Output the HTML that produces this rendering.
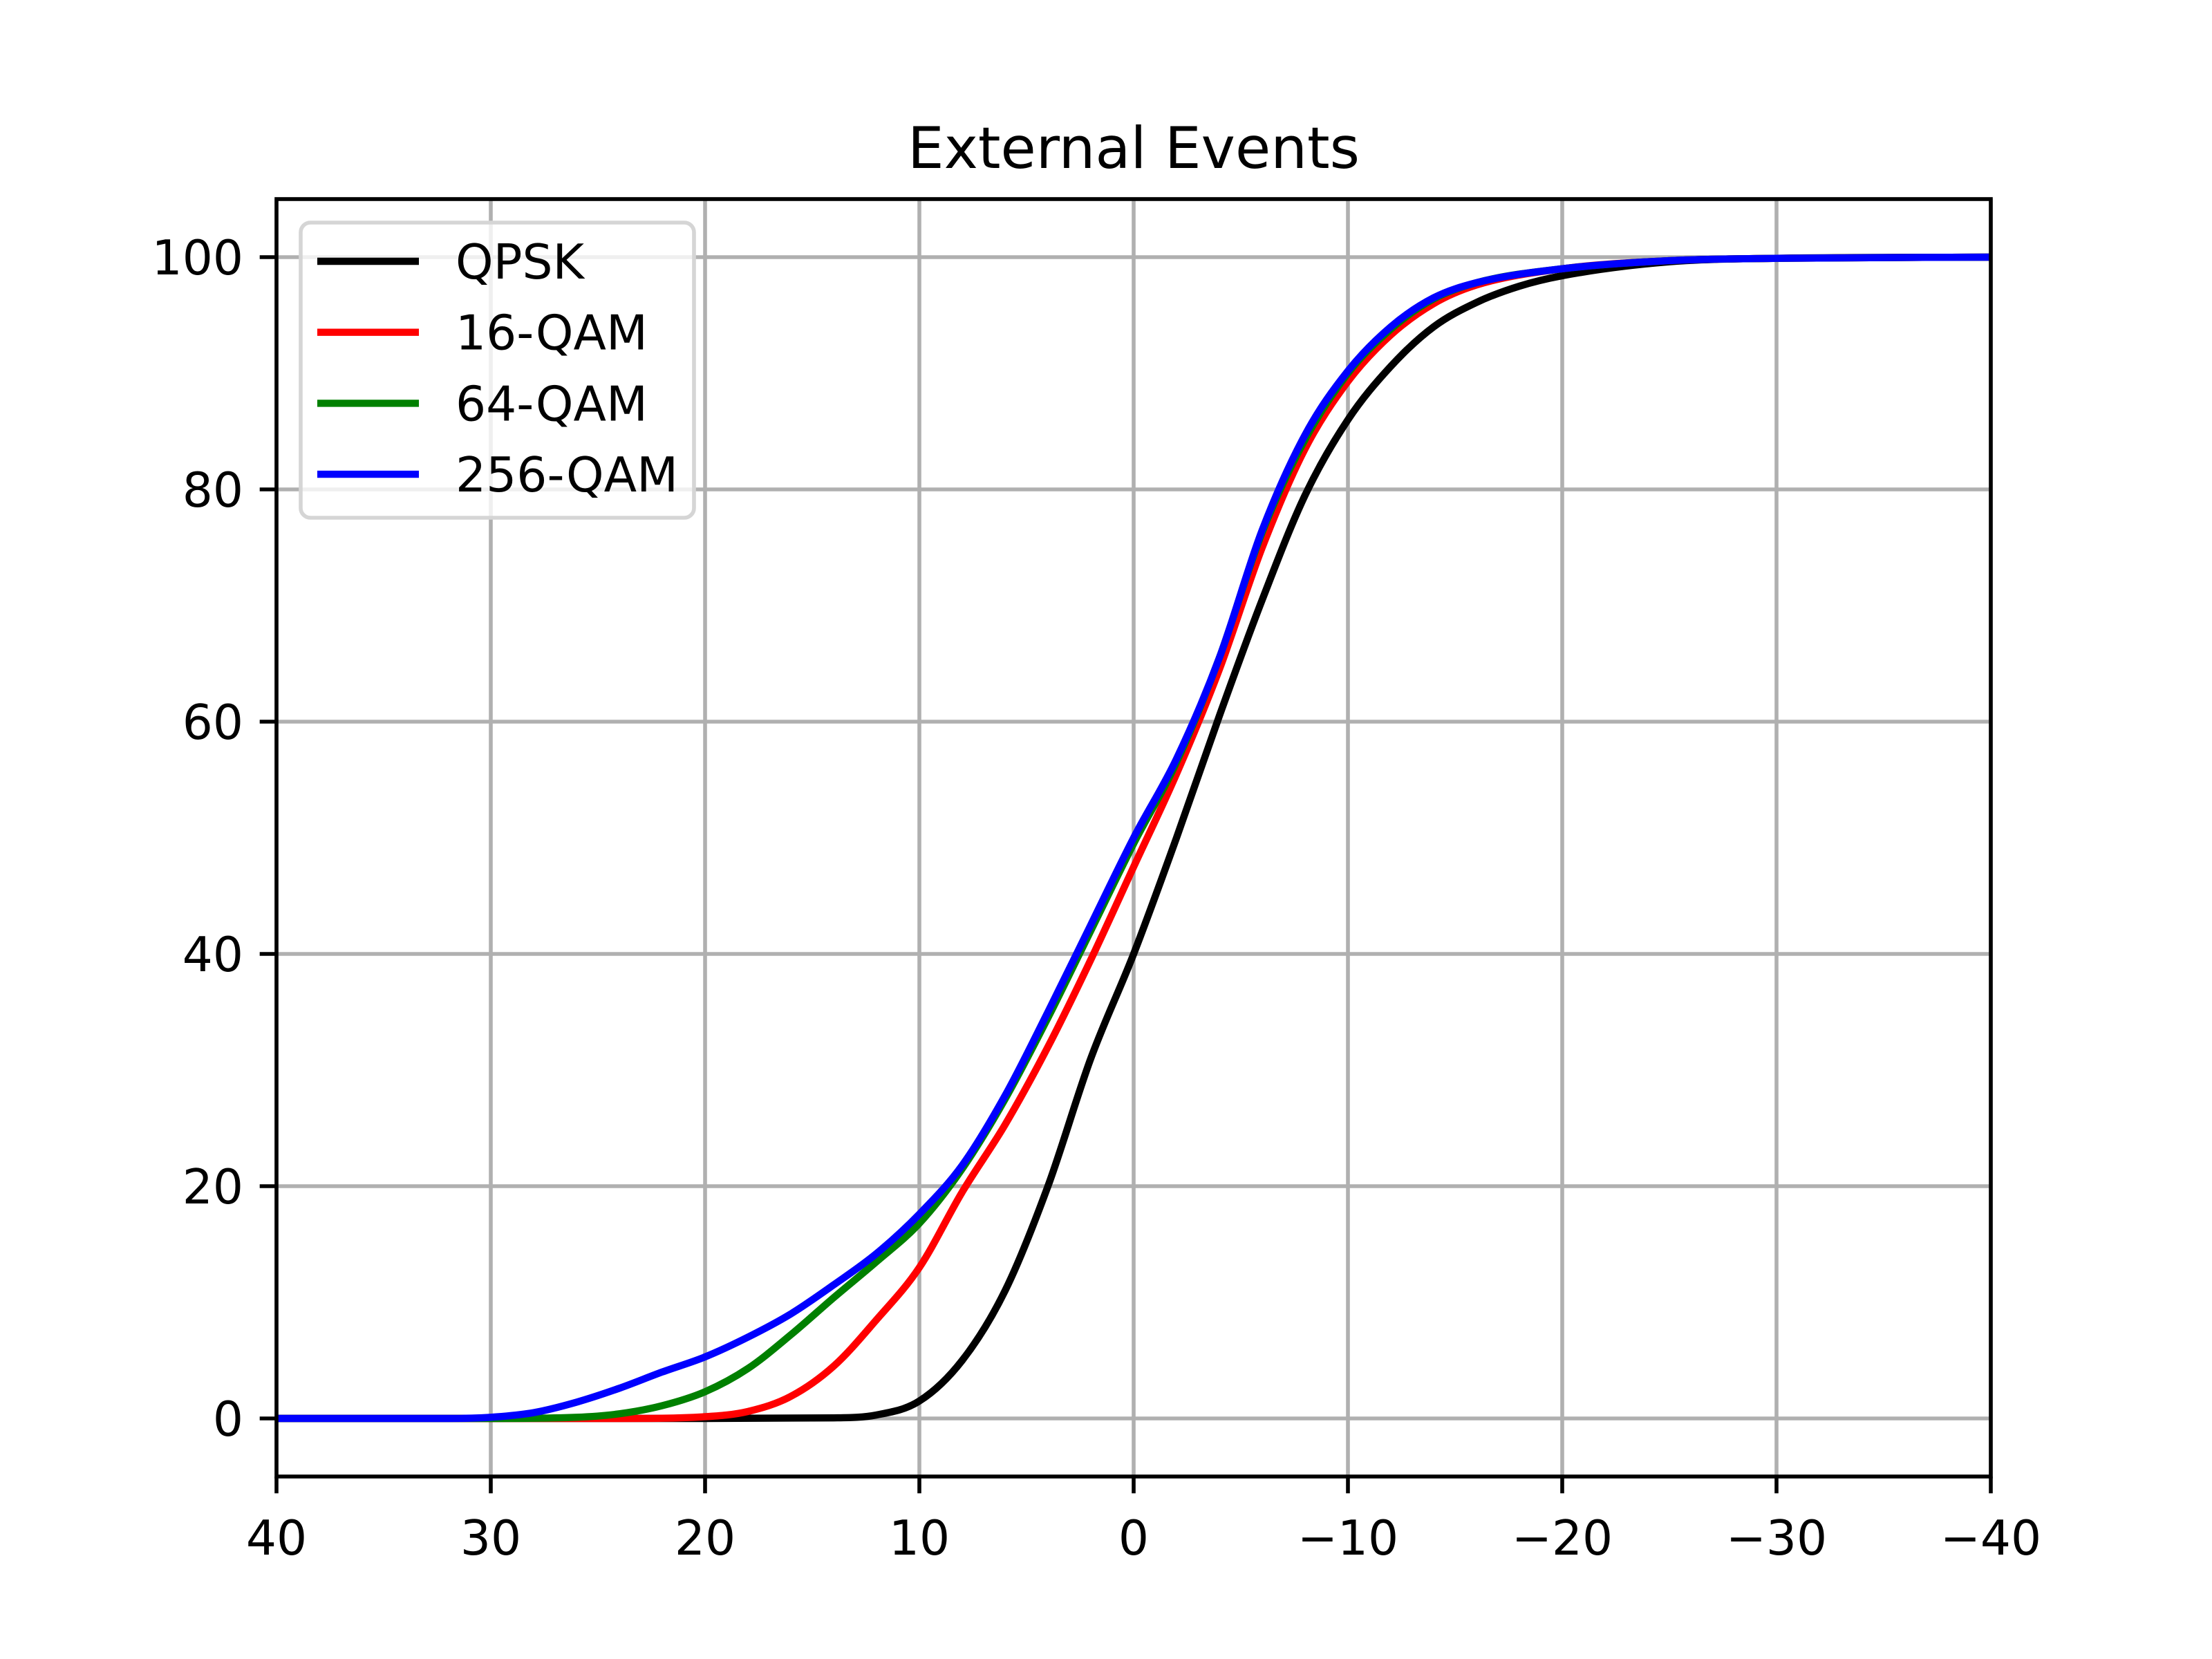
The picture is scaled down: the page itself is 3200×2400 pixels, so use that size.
<!DOCTYPE html>
<html><head><meta charset="utf-8"><style>
html,body{margin:0;padding:0;background:#fff;}
svg{display:block;font-family:"DejaVu Sans","Liberation Sans",sans-serif;}
</style></head><body>
<svg id="chart" width="3200" height="2400" viewBox="0 0 3200 2400" xmlns="http://www.w3.org/2000/svg">
<rect width="3200" height="2400" fill="#fff"/>
<text x="1640" y="243" font-size="83.3" text-anchor="middle">External Events</text>
<g id="grid"></g>
<g id="series"></g>
<rect x="400" y="288" width="2480" height="1848" fill="none" stroke="#000" stroke-width="5.6"/>
<g id="ticks"></g>
<g id="legend"></g>
</svg>
<script>
const xTicks = [40, 30, 20, 10, 0, -10, -20, -30, -40];
const yTicks = [0, 20, 40, 60, 80, 100];
const seriesNames = ["QPSK", "16-QAM", "64-QAM", "256-QAM"];
const seriesColors = ["#000000", "#ff0000", "#008000", "#0000ff"];
const qpskX = [40, 20, 14, 12, 10, 8, 6, 4, 2, 0, -2, -4, -6, -8, -10, -12, -14, -16, -18, -20, -25, -30, -40];
const qpskY = [0, 0, 0.05, 0.3, 1.5, 5, 11, 20, 31, 40, 50, 60.5, 70.5, 79.5, 86, 90.6, 94, 96.1, 97.5, 98.4, 99.6, 99.9, 100];
const qam16X = [40, 24, 20, 18, 16, 14, 12, 10, 8, 6, 4, 2, 0, -2, -4, -6, -8, -10, -12, -14, -16, -20, -25, -30, -40];
const qam16Y = [0, 0, 0.15, 0.6, 1.9, 4.5, 8.5, 13, 19.5, 25.3, 32, 39.5, 47.5, 55.5, 64.5, 75, 83.5, 89.3, 93.3, 96, 97.6, 99, 99.7, 99.9, 100];
const qam64X = [40, 30, 26, 24, 22, 20, 18, 16, 14, 12, 10, 8, 6, 4, 2, 0, -2, -4, -6, -8, -10, -12, -14, -16, -20, -25, -30, -40];
const qam64Y = [0, 0, 0.1, 0.4, 1.1, 2.3, 4.3, 7.2, 10.4, 13.5, 16.8, 21.5, 27.5, 34.5, 42, 49.5, 56.5, 65.5, 76.3, 84.3, 90, 93.8, 96.4, 97.8, 99, 99.7, 99.9, 100];
const qam256X = [40, 32, 30, 28, 26, 24, 22, 20, 18, 16, 14, 12, 10, 8, 6, 4, 2, 0, -2, -4, -6, -8, -10, -12, -14, -16, -20, -25, -30, -40];
const qam256Y = [0, 0, 0.1, 0.5, 1.4, 2.6, 4, 5.3, 7, 9, 11.5, 14.2, 17.6, 21.8, 27.8, 35, 42.5, 50, 56.8, 65.5, 76.5, 84.7, 90.2, 94, 96.5, 97.8, 99, 99.7, 99.9, 100];
const seriesX = [qpskX, qam16X, qam64X, qam256X];
const seriesY = [qpskY, qam16Y, qam64Y, qam256Y];

const NS = "http://www.w3.org/2000/svg";
const L = 400, R = 2880, T = 288, B = 2136;
const xMin = 40, xMax = -40, yMin = -5, yMax = 105;
function sx(v){ return L + (v - xMin) / (xMax - xMin) * (R - L); }
function sy(v){ return B - (v - yMin) / (yMax - yMin) * (B - T); }
function mk(tag, attrs, parent){
  const e = document.createElementNS(NS, tag);
  for (const k in attrs) e.setAttribute(k, attrs[k]);
  parent.appendChild(e);
  return e;
}
function fmt(v){ return v < 0 ? "\u2212" + Math.abs(v) : String(v); }

const grid = document.getElementById("grid");
const ticks = document.getElementById("ticks");
xTicks.forEach(v => {
  const x = sx(v);
  const g = mk("line", {x1:x, x2:x, y1:T, y2:B, stroke:"#b0b0b0", "stroke-width":5.6}, grid);
  
  
  const t = mk("line", {x1:x, x2:x, y1:B, y2:B + 24.3, stroke:"#000", "stroke-width":5.6}, ticks);
  
  
  const lab = mk("text", {x:x, y:B + 113, "font-size":69.4, "text-anchor":"middle"}, ticks);
  lab.textContent = fmt(v);
  
  
});
yTicks.forEach(v => {
  const y = sy(v);
  const g = mk("line", {x1:L, x2:R, y1:y, y2:y, stroke:"#b0b0b0", "stroke-width":5.6}, grid);
  
  
  const t = mk("line", {x1:L - 24.3, x2:L, y1:y, y2:y, stroke:"#000", "stroke-width":5.6}, ticks);
  
  
  const lab = mk("text", {x:L - 48, y:y + 25, "font-size":69.4, "text-anchor":"end"}, ticks);
  lab.textContent = fmt(v);
  
  
});

// monotone cubic (Fritsch–Carlson) in screen space
function smoothPath(xs, ys){
  const p = xs.map((x, i) => [sx(x), sy(ys[i])]);
  const n = p.length;
  const d = [], m = new Array(n);
  for (let i = 0; i < n - 1; i++) d.push((p[i+1][1] - p[i][1]) / (p[i+1][0] - p[i][0]));
  m[0] = d[0]; m[n-1] = d[n-2];
  for (let i = 1; i < n - 1; i++) m[i] = (d[i-1] * d[i] <= 0) ? 0 : (d[i-1] + d[i]) / 2;
  for (let i = 0; i < n - 1; i++){
    if (d[i] === 0){ m[i] = 0; m[i+1] = 0; continue; }
    const a = m[i] / d[i], b = m[i+1] / d[i], s = a*a + b*b;
    if (s > 9){ const t = 3 / Math.sqrt(s); m[i] = t*a*d[i]; m[i+1] = t*b*d[i]; }
  }
  let path = "M" + p[0][0] + "," + p[0][1];
  for (let i = 0; i < n - 1; i++){
    const h = (p[i+1][0] - p[i][0]) / 3;
    path += " C" + (p[i][0] + h) + "," + (p[i][1] + m[i]*h) + " " + (p[i+1][0] - h) + "," + (p[i+1][1] - m[i+1]*h) + " " + p[i+1][0] + "," + p[i+1][1];
  }
  return path;
}
const series = document.getElementById("series");
seriesNames.forEach((n, i) => {
  const path = mk("path", {d:smoothPath(seriesX[i], seriesY[i]), fill:"none", stroke:seriesColors[i], "stroke-width":10.4, "stroke-linejoin":"round"}, series);
  
  
});

const legend = document.getElementById("legend");
const box = mk("rect", {x:435, y:322, width:569, height:427, rx:14, fill:"#fff", "fill-opacity":0.8, stroke:"#d5d5d5", "stroke-width":5.6}, legend);


seriesNames.forEach((n, i) => {
  const y = 378 + i * 102.7;
  const ln = mk("line", {x1:459, x2:606, y1:y, y2:y, stroke:seriesColors[i], "stroke-width":10.4}, legend);
  
  
  const t = mk("text", {x:659, y:y + 25, "font-size":69.4}, legend);
  t.textContent = n;
  
  
});
</script>
</body></html>
